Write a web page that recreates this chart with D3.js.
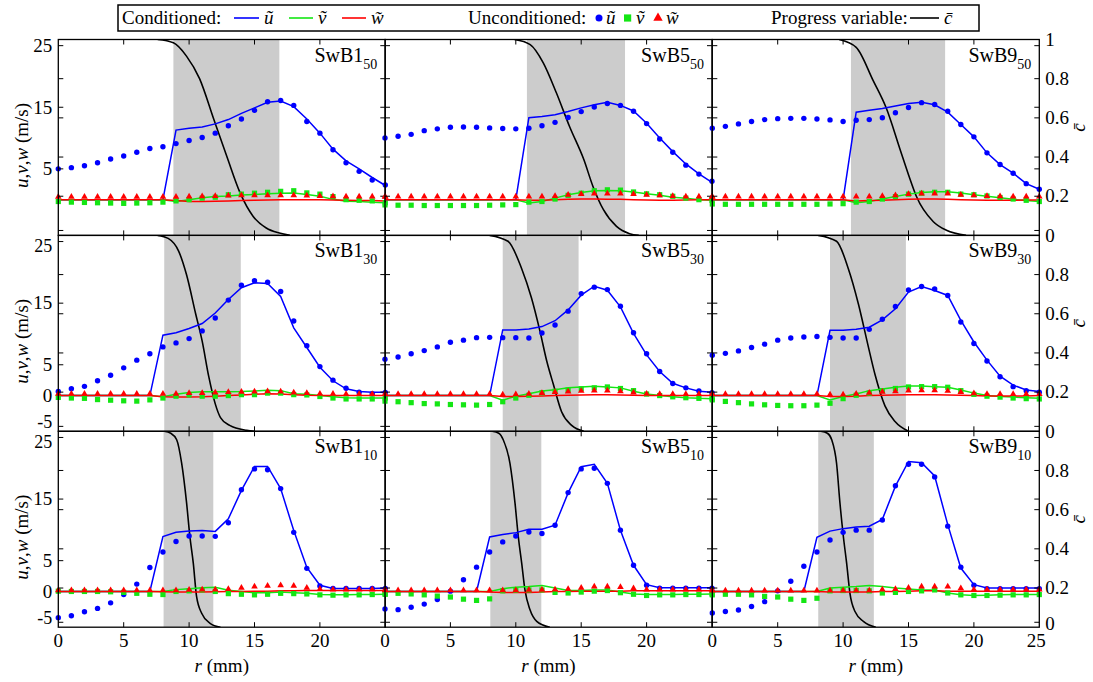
<!DOCTYPE html>
<html><head><meta charset="utf-8">
<script src="https://cdn.jsdelivr.net/npm/d3@7/dist/d3.min.js"></script>
<style>
body{margin:0;background:#fff}
svg{display:block}
text{font-family:"Liberation Serif","Times New Roman",serif;fill:#000}
</style>
</head><body>
<svg id="chart" width="1093" height="682"></svg>
<script>
// ---------------- DATA ----------------
const radius = [0,1,2,3,4,5,6,7,8,9,10,11,12,13,14,15,16,17,18,19,20,21,22,23,24,25];
const panels = ["SwB1_50","SwB5_50","SwB9_50","SwB1_30","SwB5_30","SwB9_30","SwB1_10","SwB5_10","SwB9_10"];

// unconditioned u (blue dots)
const uUncond = {
  SwB1_50:[5.0,5.2,5.5,6.0,6.6,7.1,7.7,8.3,8.6,9.1,9.6,10.1,10.8,12.0,13.1,14.5,15.9,16.1,15.3,12.7,10.8,8.1,6.0,4.6,3.2,2.4],
  SwB5_50:[10.0,10.3,10.6,11.2,11.5,11.75,11.8,11.75,11.65,11.55,11.5,11.6,12.0,12.55,13.35,14.3,15.05,15.6,15.3,14.35,12.35,9.85,7.7,5.6,4.15,3.0],
  SwB9_50:[11.6,11.9,12.3,12.7,13.0,13.15,13.2,13.2,13.1,12.95,12.7,12.9,13.0,13.3,14.1,14.95,15.75,15.45,14.35,12.2,10.2,7.6,5.7,4.3,2.6,1.7],
  SwB1_30:[0.65,1.1,1.5,2.4,3.3,4.5,5.75,6.8,7.9,8.55,9.25,10.5,12.6,15.5,17.9,18.65,18.4,16.9,12.1,8.1,4.7,2.5,1.2,0.55,0.3,0.5],
  SwB5_30:[5.9,6.25,6.8,7.3,7.9,8.65,9.0,9.4,9.45,9.4,9.4,9.35,10.15,11.45,13.7,16.55,17.6,17.2,14.5,10.2,6.8,3.9,1.95,1.25,0.75,0.45],
  SwB9_30:[6.55,6.85,7.25,7.8,8.35,9.0,9.35,9.5,9.6,9.45,9.35,9.35,10.75,12.4,14.45,17.15,17.7,17.3,16.25,11.95,8.45,5.6,3.05,1.45,0.8,0.55],
  SwB1_10:[-4.25,-3.95,-3.3,-2.75,-1.85,-0.5,1.2,3.9,6.4,8.1,9.0,9.0,8.95,11.15,16.5,19.9,19.75,16.7,9.6,3.75,0.9,0.5,0.5,0.5,0.5,0.5],
  SwB5_10:[-2.85,-2.95,-2.55,-2.05,-1.3,0.05,1.9,3.95,6.4,8.05,9.0,9.65,9.4,10.75,16.05,19.9,20.0,17.55,9.95,4.25,1.0,0.55,0.55,0.55,0.55,0.55],
  SwB9_10:[-3.5,-3.25,-3.0,-2.45,-1.65,0.1,1.65,4.1,6.4,8.35,9.6,9.95,9.95,11.6,17.15,20.65,20.65,18.6,10.6,3.95,1.0,0.45,0.45,0.45,0.45,0.45]
};
// unconditioned v (green squares)
const vUncond = {
  SwB1_50:[-0.3,-0.4,-0.45,-0.5,-0.55,-0.6,-0.55,-0.5,-0.4,-0.2,0.0,0.25,0.4,0.8,0.9,1.05,1.2,1.35,1.45,1.1,0.9,0.5,0.0,-0.1,-0.2,-0.5],
  SwB5_50:[-0.85,-0.9,-0.9,-0.95,-0.95,-0.95,-0.95,-0.95,-0.9,-0.85,-0.8,-0.4,-0.3,0.1,0.7,1.05,1.45,1.6,1.55,1.25,0.95,0.8,0.55,0.25,0.0,-0.1],
  SwB9_50:[-0.7,-0.75,-0.75,-0.75,-0.75,-0.75,-0.75,-0.75,-0.75,-0.7,-0.65,-0.4,-0.3,0.1,0.5,0.9,1.05,1.2,1.2,0.9,0.8,0.6,0.35,0.1,-0.1,-0.3],
  SwB1_30:[-0.3,-0.4,-0.45,-0.65,-0.75,-0.85,-0.9,-0.7,-0.4,-0.1,0.1,-0.1,-0.1,0.0,0.15,0.15,0.4,0.4,0.15,0.1,-0.15,-0.4,-0.55,-0.55,-0.55,-0.4],
  SwB5_30:[-0.9,-1.0,-1.15,-1.3,-1.35,-1.45,-1.5,-1.55,-1.45,-1.0,-0.4,0.05,0.45,0.7,0.9,1.1,1.25,1.4,1.15,0.8,0.25,0.0,-0.2,-0.35,-0.45,-0.5],
  SwB9_30:[-0.7,-0.95,-1.15,-1.35,-1.5,-1.6,-1.65,-1.65,-1.55,-1.25,-0.5,0.05,0.4,0.8,1.15,1.4,1.45,1.45,1.35,0.8,0.2,-0.1,-0.25,-0.4,-0.5,-0.55],
  SwB1_10:[0.05,0.0,0.0,0.0,-0.05,-0.15,-0.3,-0.45,-0.5,0.0,0.1,0.25,0.0,-0.35,-0.45,-0.55,-0.45,-0.3,-0.35,-0.4,-0.55,-0.6,-0.55,-0.55,-0.5,-0.45],
  SwB5_10:[-0.4,-0.3,-0.4,-0.55,-0.75,-0.9,-1.25,-1.45,-1.2,0.1,0.2,0.25,0.25,-0.15,-0.25,-0.1,0.05,0.15,-0.2,-0.45,-0.65,-0.55,-0.55,-0.5,-0.5,-0.4],
  SwB9_10:[-0.55,-0.45,-0.45,-0.55,-0.8,-0.9,-1.25,-1.45,-1.1,0.1,0.15,0.15,0.1,-0.25,-0.15,0.0,0.1,0.25,-0.25,-0.55,-0.65,-0.65,-0.6,-0.55,-0.55,-0.5]
};
// unconditioned w (red triangles)
const wUncond = {
  SwB1_50:[0.45,0.45,0.45,0.45,0.45,0.45,0.45,0.45,0.45,0.45,0.5,0.55,0.6,0.65,0.7,0.7,0.7,0.7,0.7,0.65,0.6,0.55,0.5,0.5,0.5,0.45],
  SwB5_50:[0.5,0.5,0.5,0.5,0.5,0.5,0.5,0.5,0.5,0.5,0.5,0.5,0.5,0.6,0.8,0.9,1.0,1.0,1.0,0.9,0.8,0.7,0.6,0.5,0.5,0.5],
  SwB9_50:[0.5,0.5,0.5,0.5,0.5,0.5,0.5,0.5,0.5,0.5,0.5,0.5,0.5,0.6,0.7,0.9,1.0,1.0,1.0,0.8,0.7,0.6,0.55,0.5,0.5,0.5],
  SwB1_30:[0.3,0.3,0.3,0.3,0.3,0.3,0.3,0.3,0.3,0.3,0.4,0.4,0.5,0.55,0.6,0.65,0.7,0.65,0.5,0.4,0.3,0.3,0.25,0.25,0.25,0.25],
  SwB5_30:[0.25,0.25,0.25,0.25,0.25,0.25,0.25,0.25,0.25,0.15,0.2,0.3,0.4,0.55,0.65,0.75,0.8,0.8,0.7,0.5,0.3,0.25,0.25,0.25,0.25,0.25],
  SwB9_30:[0.25,0.25,0.25,0.25,0.25,0.25,0.25,0.25,0.25,0.15,0.15,0.3,0.45,0.6,0.7,0.8,0.85,0.85,0.75,0.55,0.35,0.25,0.25,0.25,0.25,0.25],
  SwB1_10:[0.2,0.2,0.2,0.2,0.2,0.2,0.2,0.2,0.2,0.2,0.25,0.3,0.3,0.4,0.6,0.8,0.9,1.0,0.9,0.6,0.4,0.3,0.3,0.3,0.3,0.3],
  SwB5_10:[0.2,0.2,0.2,0.2,0.2,0.2,0.2,0.2,0.2,0.2,0.2,0.25,0.25,0.3,0.4,0.6,0.8,0.8,0.7,0.5,0.3,0.3,0.3,0.3,0.3,0.3],
  SwB9_10:[0.15,0.15,0.15,0.15,0.15,0.15,0.15,0.15,0.15,0.15,0.15,0.15,0.15,0.3,0.4,0.6,0.8,0.8,0.8,0.5,0.3,0.3,0.3,0.3,0.3,0.3]
};
// conditioned u (blue line)
const uCond = {
  SwB1_50:[0,0,0,0,0,0,0,0,0,11.3,11.6,11.8,12.3,13.0,14.0,14.9,15.8,16.0,15.1,13.1,10.8,8.2,6.3,5.0,3.6,2.3],
  SwB5_50:[0,0,0,0,0,0,0,0,0,0,0,13.3,13.5,13.8,14.3,14.9,15.4,15.8,15.3,14.4,12.4,10.0,7.8,5.8,4.2,2.8],
  SwB9_50:[0,0,0,0,0,0,0,0,0,0,0,14.2,14.5,14.8,15.2,15.6,15.8,15.4,14.2,12.2,10.2,7.6,5.7,4.3,2.6,1.7],
  SwB1_30:[0,0,0,0,0,0,0,0,9.8,10.2,10.9,11.7,13.4,15.6,17.5,18.3,18.2,16.1,11.0,7.8,4.6,2.4,1.1,0.65,0.55,0.55],
  SwB5_30:[0,0,0,0,0,0,0,0,0,10.65,10.65,10.8,11.2,12.15,13.9,16.3,17.75,17.1,14.4,10.1,6.6,3.9,2.0,1.25,0.7,0.55],
  SwB9_30:[0,0,0,0,0,0,0,0,0,10.6,10.6,10.75,11.1,12.3,14.1,16.8,17.7,17.05,16.25,12.2,8.7,5.75,3.15,1.7,0.9,0.65],
  SwB1_10:[0,0,0,0,0,0,0,0,8.9,9.6,9.8,9.9,9.75,11.8,16.4,20.3,20.3,16.7,9.9,3.9,1.0,0.5,0.5,0.5,0.5,0.55],
  SwB5_10:[0,0,0,0,0,0,0,0,8.85,9.25,9.55,10.1,10.1,10.75,16.0,20.25,20.65,17.55,9.95,4.25,1.1,0.6,0.6,0.6,0.6,0.6],
  SwB9_10:[0,0,0,0,0,0,0,0,8.8,9.8,10.2,10.45,10.6,11.7,17.1,21.1,20.9,18.75,10.85,3.8,1.1,0.55,0.55,0.55,0.55,0.55]
};
// conditioned v (green line)
const vCond = {
  SwB1_50:[0,0,0,0,0,0,0,0,0,-0.3,0.0,0.3,0.5,0.6,0.75,0.85,0.95,1.05,1.1,0.85,0.55,0.05,-0.25,-0.3,-0.4,-0.5],
  SwB5_50:[0,0,0,0,0,0,0,0,0,0,0,-0.55,-0.3,0.25,0.8,1.15,1.45,1.5,1.45,1.25,0.95,0.7,0.4,0.25,0.0,-0.1],
  SwB9_50:[0,0,0,0,0,0,0,0,0,0,0,-0.5,-0.3,0.1,0.5,0.9,1.15,1.3,1.3,1.1,0.8,0.55,0.3,0.05,-0.15,-0.3],
  SwB1_30:[0,0,0,0,0,0,0,0,-0.2,0.2,0.5,0.6,0.6,0.6,0.65,0.75,0.85,0.8,0.3,0.2,0.0,-0.2,-0.35,-0.4,-0.4,-0.4],
  SwB5_30:[0,0,0,0,0,0,0,0,0,-0.75,-0.1,0.3,0.75,0.95,1.25,1.4,1.5,1.4,1.25,0.7,0.25,0.0,-0.2,-0.35,-0.45,-0.5],
  SwB9_30:[0,0,0,0,0,0,0,0,0,-0.7,-0.15,0.25,0.8,1.05,1.35,1.55,1.55,1.45,1.35,0.9,0.4,0.0,-0.15,-0.25,-0.35,-0.45],
  SwB1_10:[0,0,0,0,0,0,0,0,0,0.3,0.45,0.6,0.7,0.2,0.0,-0.2,-0.2,-0.1,-0.2,-0.3,-0.5,-0.55,-0.55,-0.5,-0.5,-0.45],
  SwB5_10:[0,0,0,0,0,0,0,0,0,0.45,0.7,0.8,0.95,0.55,0.15,0.15,0.25,0.25,-0.1,-0.4,-0.5,-0.5,-0.5,-0.45,-0.45,-0.4],
  SwB9_10:[0,0,0,0,0,0,0,0,0,0.55,0.7,0.8,0.95,0.8,0.55,0.4,0.25,0.25,-0.25,-0.55,-0.65,-0.6,-0.55,-0.5,-0.5,-0.5]
};
// conditioned w (red line)
const wCond = {
  SwB1_50:[0,0,0,0,0,0,0,0,0,-0.15,-0.3,-0.3,-0.25,-0.2,-0.15,-0.1,-0.05,0,0,0,0,-0.05,-0.1,-0.15,-0.15,-0.2],
  SwB5_50:[0,0,0,0,0,0,0,0,0,0,0,-0.1,-0.1,0,0.05,0.1,0.1,0.05,0.05,0,-0.05,-0.1,-0.1,-0.05,0,0],
  SwB9_50:[0,0,0,0,0,0,0,0,0,0,0,-0.2,-0.15,-0.1,0,0.05,0.1,0.1,0.05,0,-0.05,-0.1,-0.1,-0.1,-0.05,-0.05],
  SwB1_30:[0,0,0,0,0,0,0,0,-0.2,-0.25,-0.25,-0.2,-0.1,0,0.1,0.2,0.3,0.25,0.15,0.05,0,0,0,0,0,0],
  SwB5_30:[0,0,0,0,0,0,0,0,0,-0.15,-0.15,-0.1,-0.05,0,0.05,0.1,0.15,0.15,0.1,0.05,0,0,0,0,0,0],
  SwB9_30:[0,0,0,0,0,0,0,0,0,-0.15,-0.15,-0.1,0,0.05,0.1,0.15,0.15,0.15,0.1,0.05,0,-0.05,-0.05,-0.05,-0.05,0],
  SwB1_10:[0,0,0,0,0,0,0,0,-0.05,-0.1,-0.1,-0.1,-0.05,0,0,0.05,0.05,0.1,0.1,0.15,0.15,0.15,0.15,0.15,0.15,0.15],
  SwB5_10:[0,0,0,0,0,0,0,0,-0.1,-0.15,-0.15,-0.15,-0.1,0,0,0.05,0.05,0.05,0.05,0.1,0.1,0.1,0.1,0.1,0.1,0.1],
  SwB9_10:[0,0,0,0,0,0,0,0,0,-0.1,-0.1,-0.1,-0.1,0,0,0.05,0.1,0.1,0.05,0.05,0.05,0.05,0.05,0.05,0.05,0.05]
};
// progress variable c-bar profile: [r, c]
const cBar = {
  SwB1_50:[[7.6,1],[8.8,0.983],[9.8,0.915],[10.8,0.8],[11.9,0.59],[12.9,0.4],[13.9,0.217],[14.9,0.097],[15.9,0.038],[16.9,0.012],[17.7,0]],
  SwB5_50:[[9.9,1],[11.1,0.974],[12.1,0.881],[13.1,0.728],[14.1,0.557],[15.2,0.387],[15.9,0.25],[16.7,0.131],[17.7,0.046],[18.7,0.009],[19.4,0]],
  SwB9_50:[[9.7,1],[11.0,0.96],[12.3,0.79],[13.3,0.65],[14.35,0.44],[15.0,0.31],[15.6,0.2],[16.9,0.07],[17.9,0.026],[19.4,0]],
  SwB1_30:[[7.6,1],[8.4,0.985],[9.2,0.92],[9.8,0.8],[10.5,0.6],[11.0,0.46],[11.5,0.28],[12.0,0.14],[12.4,0.07],[13.1,0.03],[14.4,0.005],[15.0,0]],
  SwB5_30:[[8.0,1],[9.4,0.97],[10.45,0.83],[11.2,0.68],[11.85,0.51],[12.36,0.36],[12.87,0.24],[13.5,0.1],[14.27,0.03],[15.2,0]],
  SwB9_30:[[8.1,1],[9.5,0.97],[10.4,0.83],[11.17,0.65],[11.9,0.44],[12.44,0.29],[13.2,0.13],[13.97,0.05],[15.0,0]],
  SwB1_10:[[8.1,1],[8.6,0.99],[9.05,0.957],[9.43,0.837],[9.81,0.633],[10.06,0.463],[10.32,0.327],[10.57,0.157],[10.96,0.071],[11.6,0.02],[12.4,0]],
  SwB5_10:[[8.2,1],[8.7,0.99],[9.04,0.957],[9.55,0.837],[9.94,0.633],[10.19,0.463],[10.45,0.327],[10.7,0.19],[11.08,0.09],[11.6,0.03],[12.6,0]],
  SwB9_10:[[8.3,1],[8.8,0.99],[9.13,0.957],[9.5,0.837],[9.76,0.633],[10.02,0.463],[10.27,0.327],[10.53,0.17],[10.91,0.08],[11.55,0.03],[12.5,0]]
};
// flame-brush (grey band) limits in r (mm)
const flameBand = {
  SwB1_50:[8.8,16.9], SwB5_50:[10.85,18.35], SwB9_50:[10.6,17.8],
  SwB1_30:[8.1,13.95], SwB5_30:[9.0,14.8], SwB9_30:[9.0,14.8],
  SwB1_10:[8.05,11.85], SwB5_10:[8.05,11.95], SwB9_10:[8.1,12.35]
};
// tick labels
const uTicks = [25,15,5,-5];
const cTicks = [0.2,0.4,0.6,0.8];
const rTicks = [5,10,15,20];
const uLabelsByRow = [[25,15,5],[25,15,5,0,-5],[25,15,5,0,-5]];
const cLabels = ["1","0.8","0.6","0.4","0.2","0"];
const rLabelsByCol = [[0,5,10,15,20],[0,5,10,15,20],[0,5,10,15,20,25]];

// ---------------- LAYOUT ----------------
const colX = [58.3, 385, 712.3], colW = 327;
const rowY = [39.5, 235.4, 431.3], rowH = 195.9;
const uDomain = [-5.8, 26];
const C = {u:"#0000ff", v:"#14e614", w:"#ff0000", band:"#cccccc"};
const FS = 19;

const svg = d3.select("#chart");
const defs = svg.append("defs");

panels.forEach((p, i) => {
  const col = i % 3, row = Math.floor(i / 3);
  const x0 = colX[col], y0 = rowY[row];
  const x = d3.scaleLinear().domain([0, 25]).range([x0, x0 + colW]);
  const y = d3.scaleLinear().domain(uDomain).range([y0 + rowH, y0]);
  const yc = d3.scaleLinear().domain([0, 1]).range([y0 + rowH, y0]);
  const g = svg.append("g");
  defs.append("clipPath").attr("id", "clip" + i).append("rect")
    .attr("x", x0).attr("y", y0).attr("width", colW).attr("height", rowH);
  const gc = g.append("g").attr("clip-path", `url(#clip${i})`);

  const band = flameBand[p];
  gc.append("rect").attr("x", x(band[0])).attr("y", y0)
    .attr("width", x(band[1]) - x(band[0])).attr("height", rowH).attr("fill", C.band);

  gc.append("path").datum(cBar[p])
    .attr("d", d3.line().x(d => x(d[0])).y(d => yc(d[1])).curve(d3.curveMonotoneX))
    .attr("fill", "none").attr("stroke", "#000").attr("stroke-width", 1.6);

  const line = d3.line().x((d, j) => x(radius[j])).y(d => y(d));
  [[uCond, C.u], [vCond, C.v], [wCond, C.w]].forEach(([s, col]) => {
    gc.append("path").datum(s[p]).attr("d", line)
      .attr("fill", "none").attr("stroke", col).attr("stroke-width", 1.5);
  });

  g.append("g").selectAll("circle").data(uUncond[p]).join("circle")
    .attr("cx", (d, j) => x(radius[j])).attr("cy", d => y(d)).attr("r", 2.7).attr("fill", C.u);
  g.append("g").selectAll("rect").data(vUncond[p]).join("rect")
    .attr("x", (d, j) => x(radius[j]) - 2.6).attr("y", d => y(d) - 2.6)
    .attr("width", 5.2).attr("height", 5.2).attr("fill", C.v);
  const tri = d3.symbol().type(d3.symbolTriangle).size(19);
  g.append("g").selectAll("path").data(wUncond[p]).join("path")
    .attr("d", tri).attr("transform", (d, j) => `translate(${x(radius[j])},${y(d)})`).attr("fill", C.w);

  // frame
  g.append("rect").attr("x", x0).attr("y", y0).attr("width", colW).attr("height", rowH)
    .attr("fill", "none").attr("stroke", "#000").attr("stroke-width", 1.3);

  // inward ticks on all sides
  const tk = g.append("g").attr("stroke", "#000").attr("stroke-width", 1);
  const tl = 5;
  uTicks.forEach(t => {
    tk.append("line").attr("x1", x0).attr("x2", x0 + tl).attr("y1", y(t)).attr("y2", y(t));
    tk.append("line").attr("x1", x0 + colW - tl).attr("x2", x0 + colW).attr("y1", y(t)).attr("y2", y(t));
  });
  cTicks.forEach(t => {
    tk.append("line").attr("x1", x0).attr("x2", x0 + tl).attr("y1", yc(t)).attr("y2", yc(t));
    tk.append("line").attr("x1", x0 + colW - tl).attr("x2", x0 + colW).attr("y1", yc(t)).attr("y2", yc(t));
  });
  rTicks.forEach(t => {
    tk.append("line").attr("x1", x(t)).attr("x2", x(t)).attr("y1", y0).attr("y2", y0 + tl);
    tk.append("line").attr("x1", x(t)).attr("x2", x(t)).attr("y1", y0 + rowH - tl).attr("y2", y0 + rowH);
  });

  // panel label
  const parts = p.split("_");
  const lab = g.append("text").attr("x", x0 + colW - 8).attr("y", y0 + 22)
    .attr("text-anchor", "end").attr("font-size", 20);
  lab.append("tspan").text(parts[0]);
  lab.append("tspan").attr("dy", 7).attr("font-size", 14).text(parts[1]);

  // left axis labels
  if (col === 0) {
    uLabelsByRow[row].forEach(v => {
      let dy = "0.33em", fs = FS;
      if (v === 25 && row > 0) { dy = "0.6em"; fs = 18; }
      if (v === -5) { dy = "0.1em"; fs = 18; }
      g.append("text").attr("x", x0 - 6).attr("y", y(v)).attr("dy", dy)
        .attr("text-anchor", "end").attr("font-size", fs).text(v);
    });
    const yt = g.append("text").attr("transform", `translate(28,${y0 + rowH / 2 + 8}) rotate(-90)`)
      .attr("text-anchor", "middle").attr("font-size", FS);
    yt.append("tspan").attr("font-style", "italic").text("u");
    yt.append("tspan").text(",");
    yt.append("tspan").attr("font-style", "italic").text("v");
    yt.append("tspan").text(",");
    yt.append("tspan").attr("font-style", "italic").text("w");
    yt.append("tspan").text(" (m/s)");
  }
  // right axis labels
  if (col === 2) {
    cLabels.forEach(t => {
      const v = +t;
      if (row > 0 && v === 1) return;
      const dy = (v === 0 && row === 2) ? "0.15em" : "0.33em";
      g.append("text").attr("x", x0 + colW + 6).attr("y", yc(v)).attr("dy", dy)
        .attr("text-anchor", "start").attr("font-size", FS).text(t);
    });
    g.append("text").attr("transform", `translate(1085,${y0 + rowH / 2 - 10}) rotate(-90)`)
      .attr("text-anchor", "middle").attr("font-size", FS).attr("font-style", "italic")
      .text("c\u0304");
  }
  // bottom axis labels
  if (row === 2) {
    rLabelsByCol[col].forEach(v => {
      g.append("text").attr("x", x(v) - (v === 25 ? 3 : 0)).attr("y", y0 + rowH + 20)
        .attr("text-anchor", "middle").attr("font-size", FS).text(v);
    });
    const xt = g.append("text").attr("x", x0 + colW / 2).attr("y", y0 + rowH + 45)
      .attr("text-anchor", "middle").attr("font-size", FS);
    xt.append("tspan").attr("font-style", "italic").text("r");
    xt.append("tspan").text(" (mm)");
  }
});

// ---------------- LEGEND ----------------
const lg = svg.append("g");
lg.append("rect").attr("x", 118).attr("y", 5).attr("width", 861).attr("height", 26)
  .attr("fill", "#fff").attr("stroke", "#000").attr("stroke-width", 1.5);
const ly = 24, lm = 18;
function ltext(xp, t, ital) {
  lg.append("text").attr("x", xp).attr("y", ly).attr("font-size", FS)
    .attr("font-style", ital ? "italic" : "normal").text(t);
}
function lline(x1, x2, col) {
  lg.append("line").attr("x1", x1).attr("x2", x2).attr("y1", lm).attr("y2", lm)
    .attr("stroke", col).attr("stroke-width", 1.6);
}
ltext(122, "Conditioned:");
lline(234, 259, C.u); ltext(264, "u\u0303", true);
lline(289, 313, C.v); ltext(318, "v\u0303", true);
lline(342, 366, C.w); ltext(371, "w\u0303", true);
ltext(468, "Unconditioned:");
lg.append("circle").attr("cx", 599).attr("cy", lm).attr("r", 3.5).attr("fill", C.u);
ltext(606, "u\u0303", true);
lg.append("rect").attr("x", 624).attr("y", lm - 3.6).attr("width", 7.2).attr("height", 7.2).attr("fill", C.v);
ltext(636, "v\u0303", true);
lg.append("path").attr("d", d3.symbol().type(d3.symbolTriangle).size(38))
  .attr("transform", `translate(658,${lm})`).attr("fill", C.w);
ltext(666, "w\u0303", true);
ltext(771, "Progress variable:");
lline(910, 939, "#000"); ltext(944, "c\u0304", true);
</script>
</body></html>
